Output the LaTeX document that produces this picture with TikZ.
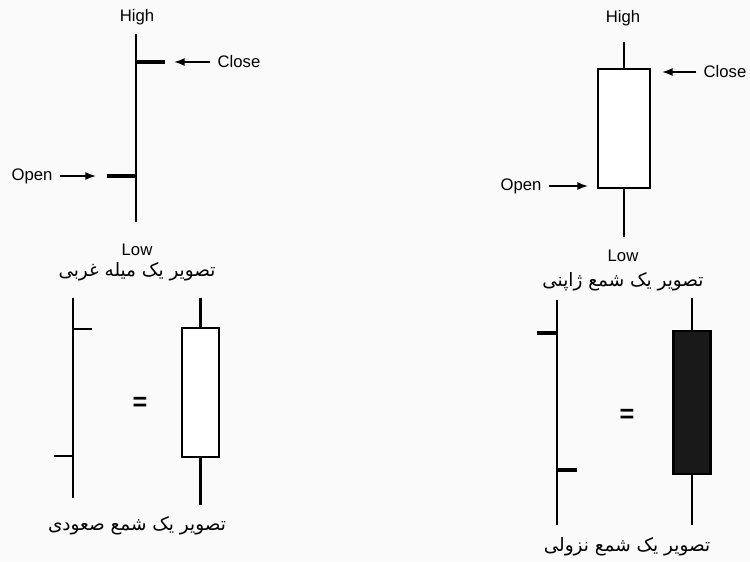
\documentclass[tikz,border=0pt]{standalone}
\usepackage{fontspec}
\setmainfont{Liberation Sans}
\newfontfamily\arabicfont[Script=Arabic]{DejaVu Sans}
\TeXXeTstate=1
\usetikzlibrary{arrows.meta}

\tikzset{
  lbl/.style={font=\fontsize{9.5}{11}\selectfont, inner sep=1pt},
  fatxt/.style={font=\arabicfont\fontsize{10.5}{12}\selectfont, inner sep=0pt},
  arr/.style={-{Latex[length=6pt,width=4.5pt]}, line width=0.9pt, shorten <=3pt},
  wick/.style={line width=1.6pt},
  thinwick/.style={line width=1.2pt},
  tickmark/.style={line width=2.6pt},
  body/.style={draw, line width=1.2pt, inner sep=0pt, fill=white},
  eqsign/.style={font=\bfseries\Large, inner sep=0pt}
}

\begin{document}
\begin{tikzpicture}[x=0.02cm, y=-0.02cm]
\fill[gray!4] (0,0) rectangle (750,561);
\useasboundingbox (0,0) rectangle (750,561);

% bar chart
\coordinate (h1) at (136,34);
\coordinate (l1) at (136,222);
\coordinate (c1) at (136,62);
\coordinate (c1e) at (165,62);
\coordinate (o1) at (136,176);
\coordinate (o1e) at (107,176);
\draw[wick] (h1)--(l1);
\draw[tickmark] (c1)--(c1e);
\draw[tickmark] (o1)--(o1e);

\node[lbl] (high1) at (137,17) {High};
\node[lbl] (low1) at (137,250) {Low};
\node[lbl] (close1) at (239,62) {Close};
\node[lbl] (open1) at (32,176) {Open};
\coordinate (ca1) at (174,62);
\coordinate (oa1) at (96,176);
\draw[arr] (close1)--(ca1);
\draw[arr] (open1)--(oa1);
\node[fatxt] (cap1) at (137,272) {\beginR تصویر یک میله غربی\endR};

% candle
\node[body, minimum width=1.04cm, minimum height=2.38cm] (b2) at (624,128.5) {};
\coordinate (h2) at (624,42);
\coordinate (l2) at (624,237);
\draw[wick] (b2.north)--(h2);
\draw[wick] (b2.south)--(l2);

\node[lbl] (high2) at (623,18) {High};
\node[lbl] (low2) at (623,256) {Low};
\node[lbl] (close2) at (725,72) {Close};
\node[lbl] (open2) at (521,186) {Open};
\coordinate (ca2) at (662,72);
\coordinate (oa2) at (588,186);
\draw[arr] (close2)--(ca2);
\draw[arr] (open2)--(oa2);
\node[fatxt] (cap2) at (623,282) {\beginR تصویر یک شمع ژاپنی\endR};

% rising
\coordinate (h3) at (73,298);
\coordinate (l3) at (73,498);
\draw[thinwick] (h3)--(l3);
\draw[thinwick] (73,329)--(92,329);
\draw[thinwick] (54,456)--(73,456);
\node[eqsign] (eq3) at (140,404) {=};
\node[body, minimum width=0.74cm, minimum height=2.58cm] (b3) at (200.5,392.5) {};
\coordinate (h4) at (200.5,298);
\coordinate (l4) at (200.5,505);
\draw[thinwick] (b3.north)--(h4);
\draw[thinwick] (b3.south)--(l4);
\node[fatxt] (cap3) at (137,526) {\beginR تصویر یک شمع صعودی\endR};

% falling
\coordinate (h5) at (557,300);
\coordinate (l5) at (557,525);
\draw[thinwick] (h5)--(l5);
\draw[tickmark] (537,333)--(557,333);
\draw[tickmark] (557,470)--(577,470);
\node[eqsign] (eq5) at (627,416) {=};
\node[body, fill=black!90, minimum width=0.74cm, minimum height=2.86cm] (b6) at (692,402.5) {};
\coordinate (h6) at (692,298);
\coordinate (l6) at (692,525);
\draw[thinwick] (b6.north)--(h6);
\draw[thinwick] (b6.south)--(l6);
\node[fatxt] (cap4) at (627,547) {\beginR تصویر یک شمع نزولی\endR};

\end{tikzpicture}
\end{document}
